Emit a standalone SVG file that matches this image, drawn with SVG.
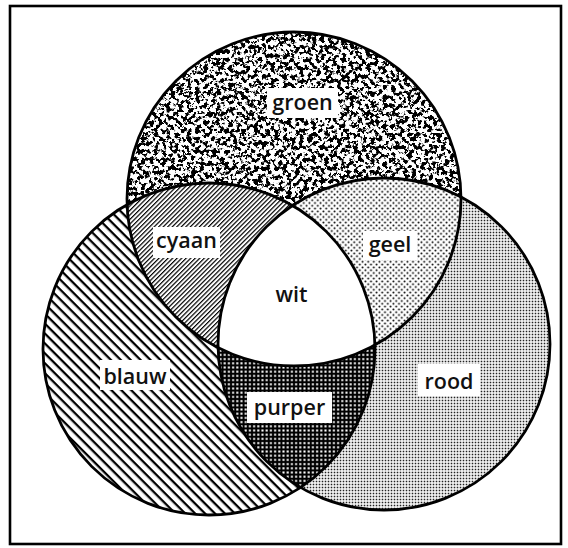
<svg xmlns="http://www.w3.org/2000/svg" width="568" height="548" viewBox="0 0 568 548">
  <style>
    .lbl { font-family: "Open Sans", "Liberation Sans", sans-serif; font-size: 21.5px; font-weight: 600; fill: #111; text-anchor: middle; }
    .box { fill: #fff; }
    .ring { fill: none; stroke: #000; stroke-width: 2.8; }
    .frame { fill: none; stroke: #000; stroke-width: 2.6; }
  </style>
  <defs>
    <clipPath id="cG"><circle cx="294" cy="199" r="167"/></clipPath>
    <clipPath id="cB"><circle cx="209" cy="349" r="166"/></clipPath>
    <clipPath id="cR"><circle cx="384" cy="344" r="166"/></clipPath>

    <pattern id="pBlauw" width="7" height="7" patternUnits="userSpaceOnUse" patternTransform="rotate(45)">
      <rect width="7" height="7" fill="#fff"/>
      <rect width="7" height="2.3" fill="#000"/>
    </pattern>
    <pattern id="pCyaan" width="3.2" height="3.2" patternUnits="userSpaceOnUse" patternTransform="rotate(-45)">
      <rect width="3.2" height="3.2" fill="#fff"/>
      <rect width="3.2" height="1.2" fill="#000"/>
    </pattern>
    <pattern id="pGeel" width="5.6" height="5.6" patternUnits="userSpaceOnUse">
      <rect width="5.6" height="5.6" fill="#fff"/>
      <circle cx="1.4" cy="1.4" r="1" fill="#000"/>
      <circle cx="4.2" cy="4.2" r="1" fill="#000"/>
    </pattern>
    <pattern id="pRood" width="3" height="3" patternUnits="userSpaceOnUse">
      <rect width="3" height="3" fill="#fff"/>
      <rect x="0.7" y="0.7" width="1.6" height="1.6" fill="#222"/>
    </pattern>
    <pattern id="pPurper" width="4.2" height="4.2" patternUnits="userSpaceOnUse">
      <rect width="4.2" height="4.2" fill="#000"/>
      <rect x="1.1" y="1.1" width="2" height="2" fill="#fff"/>
    </pattern>
    <filter id="fNoise" filterUnits="userSpaceOnUse" x="120" y="25" width="350" height="350" color-interpolation-filters="sRGB">
      <feTurbulence type="fractalNoise" baseFrequency="0.24" numOctaves="3" seed="7" result="n"/>
      <feColorMatrix in="n" type="matrix" values="0 0 0 0 0  0 0 0 0 0  0 0 0 0 0  14 0 0 0 -6.8"/>
    </filter>
  </defs>

  <rect width="568" height="548" fill="#fff"/>
  <rect class="frame" x="10" y="6" width="551" height="538"/>

  <g id="blauw">
    <circle cx="209" cy="349" r="166" fill="url(#pBlauw)"/>
  </g>
  <g id="rood">
    <circle cx="384" cy="344" r="166" fill="url(#pRood)"/>
  </g>
  <g id="groen">
    <circle cx="294" cy="199" r="167" fill="#fff"/>
    <g clip-path="url(#cG)">
      <rect x="120" y="25" width="350" height="350" fill="#000" filter="url(#fNoise)"/>
    </g>
  </g>
  <g id="cyaan">
    <g clip-path="url(#cG)"><circle cx="209" cy="349" r="166" fill="url(#pCyaan)"/></g>
  </g>
  <g id="geel">
    <g clip-path="url(#cG)"><circle cx="384" cy="344" r="166" fill="url(#pGeel)"/></g>
  </g>
  <g id="purper">
    <g clip-path="url(#cB)"><circle cx="384" cy="344" r="166" fill="url(#pPurper)"/></g>
  </g>
  <g id="wit">
    <g clip-path="url(#cG)"><g clip-path="url(#cB)"><circle cx="384" cy="344" r="166" fill="#fff"/></g></g>
  </g>

  <g id="outlines">
    <circle class="ring" cx="294" cy="199" r="167"/>
    <circle class="ring" cx="209" cy="349" r="166"/>
    <circle class="ring" cx="384" cy="344" r="166"/>
  </g>

  <g id="connectors"/>

  <g id="labels">
    <g id="label-groen"><rect class="box" x="267" y="88" width="71" height="30"/><text class="lbl" x="302.5" y="110">groen</text></g>
    <g id="label-cyaan"><rect class="box" x="153" y="227" width="67" height="31"/><text class="lbl" x="186.5" y="248">cyaan</text></g>
    <g id="label-geel"><rect class="box" x="363" y="231" width="54" height="29"/><text class="lbl" x="390" y="252">geel</text></g>
    <g id="label-wit"><text class="lbl" x="291.5" y="302">wit</text></g>
    <g id="label-blauw"><rect class="box" x="100" y="360" width="70" height="30"/><text class="lbl" x="135" y="384">blauw</text></g>
    <g id="label-purper"><rect class="box" x="247" y="392" width="85" height="31"/><text class="lbl" x="289.5" y="415">purper</text></g>
    <g id="label-rood"><rect class="box" x="418" y="364" width="62" height="32"/><text class="lbl" x="449" y="389">rood</text></g>
  </g>
</svg>
